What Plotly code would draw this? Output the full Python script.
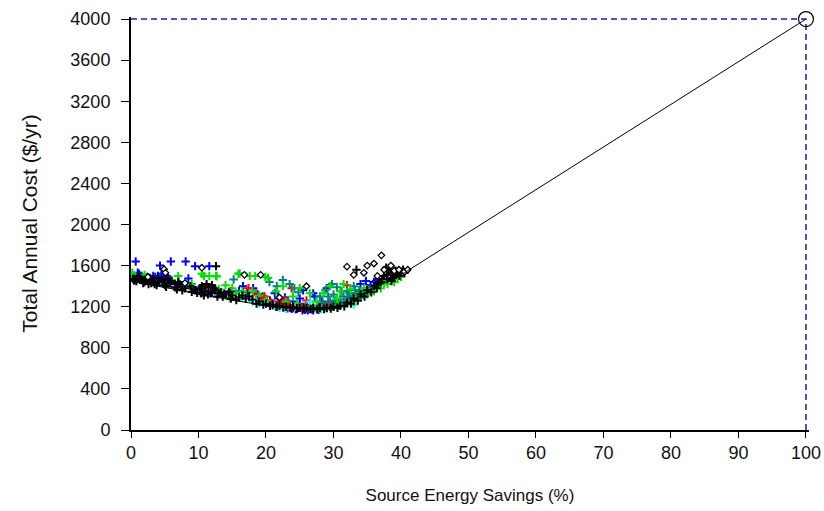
import plotly.graph_objects as go

# ---- data ----
x_ticks = [0, 10, 20, 30, 40, 50, 60, 70, 80, 90, 100]
y_ticks = [0, 400, 800, 1200, 1600, 2000, 2400, 2800, 3200, 3600, 4000]

# lower-envelope (least-cost) curve
curve_x = [0, 2, 5, 8, 10, 13, 16, 20, 23, 26, 28, 30, 31.5, 33, 35, 37, 39, 40.5, 100]
curve_y = [1450, 1425, 1390, 1350, 1320, 1285, 1250, 1210, 1190, 1178, 1175, 1185, 1210, 1265, 1345, 1415, 1480, 1530, 4000]

# reference point
ref_x = [100]
ref_y = [4000]

# dashed guide lines
guide_x = [0, 100, 100]
guide_y = [4000, 4000, 0]

blue_x = [0.7, 4.3, 5.9, 8.1, 9.5, 11.6, 0.4, 0.8, 1.2, 1.8, 2.5, 3.3, 3.8, 4.5, 5.0, 5.5, 6.5, 7.5, 8.5, 9.2,
          10.5, 12.0, 13.8, 14.8, 16.6, 17.2, 18.1, 19.5, 20.6, 21.3, 22.0, 22.8, 23.5, 24.0, 24.8, 25.5, 26.0,
          26.5, 27.2, 27.8, 28.3, 29.0, 29.5, 31.0, 34.0, 34.8, 35.5, 36.3, 36.8, 22.5, 23.2, 24.4, 25.8, 26.8,
          27.5, 28.8, 21.0, 20.0, 25.0, 27.0, 0.5, 1.5, 2.2, 3.0, 4.0, 4.8, 5.3, 6.0, 7.0, 8.0, 1.0, 2.8, 3.6,
          23.8, 24.6, 25.4, 26.2, 27.0, 27.8, 28.6, 22.2, 23.0, 29.8, 30.4, 35.0, 36.0, 16.0, 18.8, 21.8, 25.0]
blue_y = [1640, 1600, 1640, 1640, 1595, 1595, 1500, 1470, 1520, 1480, 1450, 1500, 1465, 1520, 1440, 1480, 1420,
          1400, 1475, 1390, 1370, 1340, 1330, 1350, 1400, 1340, 1380, 1300, 1260, 1330, 1230, 1290, 1200, 1250,
          1190, 1360, 1220, 1180, 1300, 1200, 1250, 1380, 1200, 1240, 1420, 1450, 1410, 1450, 1420, 1195, 1185,
          1175, 1170, 1175, 1185, 1215, 1215, 1240, 1230, 1330, 1460, 1500, 1470, 1440, 1500, 1460, 1500, 1450,
          1440, 1420, 1530, 1480, 1490, 1180, 1180, 1165, 1165, 1165, 1170, 1180, 1240, 1260, 1220, 1230, 1380,
          1440, 1350, 1320, 1280, 1280]

red_x = [19.4, 20.1, 21.0, 21.8, 22.5, 23.0, 23.8, 24.5, 25.2, 26.0, 27.0, 28.5, 32.0, 33.0, 17.4, 18.5, 14.5,
         11.2, 2.0, 24.0, 22.0, 20.8, 21.5, 23.4, 25.8, 26.6, 28.0, 29.2, 19.8, 22.8]
red_y = [1280, 1265, 1220, 1250, 1200, 1240, 1380, 1210, 1190, 1260, 1195, 1220, 1410, 1300, 1380, 1330, 1330,
         1400, 1470, 1185, 1220, 1240, 1200, 1215, 1200, 1180, 1200, 1230, 1300, 1270]

green_x = [0.2, 1.0, 2.0, 3.0, 5.5, 7.0, 10.5, 10.8, 11.6, 12.6, 12.7, 15.9, 16.1, 17.6, 18.4, 19.9, 20.3, 14.0,
           15.0, 13.0, 16.5, 19.0, 21.5, 22.5, 24.0, 25.0, 26.5, 27.5, 28.5, 29.5, 30.5, 31.5, 32.5, 33.5, 34.5,
           35.5, 36.5, 37.5, 38.5, 39.5, 40.0, 9.0, 6.0, 26.0, 30.0, 32.0, 0.6, 1.6, 2.6, 14.6, 15.6, 17.0, 18.0,
           20.0, 23.0, 24.6, 27.0, 28.0, 29.0, 31.0, 33.0, 34.0, 35.0, 36.0, 37.0, 38.0, 39.0, 27.6, 30.8]
green_y = [1530, 1490, 1510, 1460, 1440, 1500, 1520, 1500, 1500, 1500, 1495, 1520, 1525, 1500, 1500, 1490, 1480,
           1410, 1380, 1370, 1350, 1310, 1350, 1400, 1300, 1380, 1330, 1250, 1330, 1400, 1280, 1420, 1370, 1300,
           1380, 1370, 1400, 1430, 1460, 1470, 1490, 1420, 1460, 1190, 1200, 1230, 1480, 1460, 1480, 1290, 1330,
           1300, 1350, 1260, 1250, 1230, 1200, 1180, 1190, 1350, 1250, 1300, 1320, 1350, 1380, 1420, 1440, 1170,
           1220]

teal_x = [15.2, 20.5, 22.5, 23.5, 24.8, 28.0, 28.8, 29.5, 30.0, 30.5, 31.0, 31.5, 32.0, 32.5, 33.0, 33.5, 34.0,
          34.5, 35.0, 36.0, 37.0, 38.0, 39.0, 40.0, 29.0, 30.0, 31.0, 32.8, 33.8, 29.8, 28.4, 29.2, 30.2, 31.2,
          32.2, 33.2, 34.2, 30.8, 31.8, 32.4, 21.6, 24.2]
teal_y = [1465, 1440, 1460, 1420, 1340, 1300, 1360, 1250, 1320, 1390, 1230, 1300, 1350, 1250, 1400, 1330, 1290,
          1340, 1370, 1390, 1420, 1450, 1480, 1500, 1200, 1210, 1270, 1300, 1360, 1420, 1240, 1300, 1260, 1350,
          1290, 1360, 1320, 1220, 1240, 1330, 1400, 1380]

cyan_x = [18.0, 19.0, 20.5, 22.0, 23.0, 24.5, 26.5, 27.5, 29.0, 30.5, 16.5, 12.0, 33.0, 19.8, 21.2, 28.2, 31.6]
cyan_y = [1250, 1230, 1220, 1190, 1180, 1200, 1250, 1190, 1180, 1200, 1290, 1400, 1220, 1240, 1210, 1180, 1230]

black_x = [0.3, 0.8, 1.3, 2.0, 2.8, 3.5, 4.2, 5.0, 5.8, 6.5, 7.2, 8.0, 8.8, 9.5, 10.2, 11.0, 11.5, 12.0, 12.5,
           13.0, 14.0, 15.0, 16.0, 17.0, 18.0, 19.0, 20.0, 21.0, 22.0, 23.0, 24.0, 25.0, 26.0, 27.0, 28.0, 29.0,
           30.0, 31.0, 32.0, 33.0, 34.0, 35.0, 36.0, 37.0, 37.5, 38.0, 38.5, 39.0, 39.5, 40.0, 40.5, 12.6, 33.4,
           37.8, 1.0, 1.6, 2.4, 3.0, 4.0, 4.6, 6.0, 7.0, 10.5, 11.2, 11.8, 12.3, 13.3, 10.8, 14.5, 16.5, 17.5,
           38.2, 39.2, 38.8, 37.2, 36.6, 5.4, 3.2, 0.5, 1.8, 2.6, 3.8, 5.2, 6.8, 7.6, 9.0, 9.8, 10.4, 11.4,
           12.8, 13.6, 14.8, 15.6, 18.6, 19.6, 20.6, 21.6, 22.6, 23.6, 24.6, 25.6, 26.6, 27.6, 28.6, 29.6, 30.6,
           31.6, 32.6, 33.6, 34.6, 35.6, 36.4, 38.6, 39.8, 40.3, 37.9]
black_y = [1470, 1450, 1480, 1440, 1460, 1420, 1440, 1410, 1430, 1390, 1420, 1380, 1400, 1360, 1380, 1350, 1390,
           1410, 1360, 1330, 1320, 1310, 1290, 1280, 1270, 1250, 1230, 1220, 1210, 1200, 1195, 1190, 1185, 1185,
           1190, 1190, 1200, 1210, 1240, 1280, 1320, 1360, 1400, 1440, 1500, 1470, 1530, 1500, 1520, 1540, 1530,
           1595, 1560, 1580, 1500, 1460, 1490, 1430, 1480, 1460, 1450, 1440, 1400, 1420, 1330, 1380, 1340, 1310,
           1340, 1310, 1300, 1560, 1550, 1480, 1470, 1430, 1470, 1470, 1455, 1430, 1420, 1410, 1395, 1370, 1360,
           1345, 1335, 1330, 1320, 1300, 1300, 1280, 1265, 1230, 1220, 1210, 1200, 1195, 1190, 1185, 1180, 1178,
           1176, 1178, 1182, 1190, 1205, 1230, 1260, 1300, 1340, 1380, 1450, 1500, 1560, 1510]

diam_x = [4.9, 5.1, 10.5, 16.8, 19.2, 32.0, 33.0, 35.0, 36.0, 37.1, 37.5, 38.5, 39.0, 39.7, 40.5, 41.0, 36.5, 34.5,
          8.0, 2.5, 22.0, 26.0]
diam_y = [1565, 1530, 1580, 1510, 1510, 1590, 1510, 1600, 1620, 1700, 1560, 1600, 1550, 1560, 1540, 1560, 1500,
          1530, 1430, 1490, 1290, 1400]

FONT = "Liberation Sans, Arial, sans-serif"

fig = go.Figure()


def crosses(xs, ys, color):
    fig.add_trace(go.Scatter(
        x=xs, y=ys, mode="markers", showlegend=False, hoverinfo="skip",
        marker=dict(symbol="cross-thin", size=6, color=color, line=dict(width=2, color=color)),
    ))


crosses(blue_x, blue_y, "#0000ff")
crosses(red_x, red_y, "#ff0000")
crosses(cyan_x, cyan_y, "#00ffff")
crosses(teal_x, teal_y, "#008080")
crosses(green_x, green_y, "#00e000")
crosses(black_x, black_y, "#000000")

fig.add_trace(go.Scatter(
    x=diam_x, y=diam_y, mode="markers", showlegend=False, hoverinfo="skip",
    marker=dict(symbol="diamond", size=5, color="white", line=dict(width=1.3, color="black")),
))

fig.add_trace(go.Scatter(
    x=curve_x, y=curve_y, mode="lines", showlegend=False, hoverinfo="skip",
    line=dict(color="black", width=1),
))

fig.add_trace(go.Scatter(
    x=guide_x, y=guide_y, mode="lines", showlegend=False, hoverinfo="skip",
    line=dict(color="#1a1ab8", width=1.5, dash="6px,4px"),
))

fig.add_trace(go.Scatter(
    x=ref_x, y=ref_y, mode="markers", showlegend=False, hoverinfo="skip", cliponaxis=False,
    marker=dict(symbol="circle", size=15, color="rgba(255,255,255,0)", line=dict(width=1.2, color="black")),
))

# axis ranges are a hair wider than 0-100 / 0-4000 so the dashed guides on the
# 100 % and 4000 $/yr edges are not half-clipped by the plot area
fig.update_layout(
    width=824, height=511,
    margin=dict(l=131, r=15, t=17, b=81),
    paper_bgcolor="white", plot_bgcolor="white",
    font=dict(family=FONT, size=18, color="#111111"),
)

fig.update_xaxes(
    range=[0, 100.45], tickvals=x_ticks, ticktext=[str(v) for v in x_ticks], automargin=False,
    showgrid=False, zeroline=False, showline=True, linecolor="black", linewidth=1.5,
    ticks="outside", ticklen=6, tickwidth=1, tickcolor="black",
    tickfont=dict(family=FONT, size=18),
    title=dict(text="Source Energy Savings (%)", font=dict(family=FONT, size=17), standoff=27),
)
fig.update_yaxes(
    range=[0, 4020], tickvals=y_ticks, ticktext=[str(v) for v in y_ticks], automargin=False,
    showgrid=False, zeroline=False, showline=True, linecolor="black", linewidth=2,
    ticks="outside", ticklen=8, tickwidth=1, tickcolor="black", ticklabelstandoff=7,
    tickfont=dict(family=FONT, size=18),
    title=dict(text="Total Annual Cost ($/yr)", font=dict(family=FONT, size=21), standoff=27),
)

# remove the default 8px page margin so the figure sits at the window's top-left corner
fig.write_html("out.html", config={"displayModeBar": False},
               post_script="document.body.style.margin='0';")
